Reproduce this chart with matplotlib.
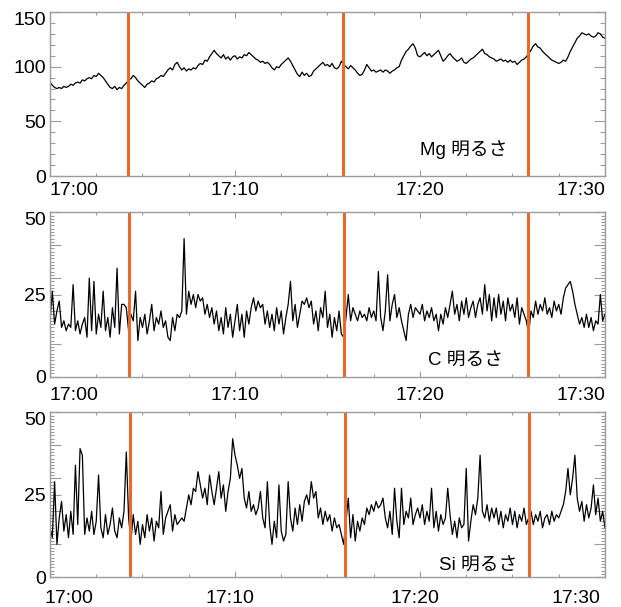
"""Three-panel brightness time series (Mg / C / Si) with event markers."""

import numpy as np
import matplotlib.pyplot as plt
import matplotlib.transforms as mtransforms
from matplotlib.ticker import MultipleLocator

plt.rcParams["font.family"] = ["Liberation Sans", "Noto Sans CJK JP"]

# sample cadence, minutes after 17:00
STEP_MIN = 0.125

# one row per minute (8 samples)
MG = [
    86, 83, 81, 80, 81, 80, 82, 81,
    82, 84, 83, 85, 86, 85, 88, 87,
    89, 90, 89, 92, 91, 94, 92, 90,
    87, 84, 81, 80, 82, 79, 81, 80,
    83, 85, 88, 89, 92, 90, 87, 85,
    83, 81, 84, 85, 87, 86, 89, 90,
    92, 91, 94, 97, 99, 97, 102, 104,
    100, 97, 99, 96, 98, 97, 99, 98,
    101, 103, 102, 106, 105, 109, 112, 115,
    112, 110, 108, 111, 107, 109, 106, 109,
    110, 107, 109, 108, 111, 110, 113, 111,
    109, 107, 106, 104, 105, 103, 104, 102,
    99, 97, 100, 99, 102, 104, 106, 108,
    105, 101, 97, 93, 91, 95, 92, 94,
    91, 92, 96, 98, 100, 102, 104, 101,
    102, 100, 103, 99, 98, 100, 105, 102,
    100, 98, 101, 99, 97, 94, 92, 93,
    97, 102, 99, 96, 97, 95, 96, 97,
    95, 97, 96, 94, 96, 97, 99, 100,
    106, 110, 114, 116, 119, 121, 117, 110,
    109, 111, 113, 110, 112, 109, 111, 113,
    115, 110, 105, 107, 110, 112, 109, 107,
    105, 106, 108, 104, 103, 105, 107, 108,
    110, 112, 114, 116, 112, 111, 109, 108,
    107, 105, 106, 107, 105, 106, 104, 106,
    104, 105, 102, 104, 106, 107, 109, 112,
    115, 119, 121, 118, 117, 114, 112, 110,
    108, 106, 105, 104, 103, 104, 106, 105,
    109, 114, 118, 122, 126, 128, 131, 130,
    129, 130, 128, 127, 128, 131, 130, 127,
    126,
]

C = [
    17, 26, 16, 20, 23, 15, 17, 14,
    16, 15, 28, 14, 17, 13, 16, 18,
    12, 30, 14, 29, 13, 19, 15, 26,
    14, 18, 12, 21, 15, 33, 13, 22,
    22, 21, 14, 19, 17, 26, 11, 18,
    15, 19, 13, 17, 22, 14, 18, 16,
    20, 15, 17, 12, 11, 18, 14, 19,
    18, 20, 42, 19, 26, 22, 25, 21,
    25, 23, 24, 19, 22, 18, 21, 16,
    20, 14, 18, 13, 21, 15, 19, 12,
    17, 22, 14, 19, 12, 20, 16, 21,
    24, 20, 23, 21, 22, 16, 20, 15,
    19, 14, 21, 16, 20, 13, 18, 22,
    29, 17, 22, 15, 19, 23, 22, 24,
    21, 23, 16, 20, 14, 21, 18, 26,
    15, 19, 12, 18, 14, 20, 13, 12,
    18, 25, 17, 21, 19, 17, 20, 18,
    19, 17, 21, 18, 20, 17, 32, 18,
    14, 20, 31, 17, 22, 25, 18, 21,
    17, 14, 11, 19, 22, 18, 21, 20,
    19, 22, 17, 20, 18, 21, 17, 19,
    14, 19, 16, 21, 18, 22, 26, 19,
    22, 17, 23, 19, 24, 18, 21, 23,
    18, 22, 24, 19, 28, 20, 25, 17,
    24, 18, 25, 19, 23, 17, 24, 20,
    22, 18, 24, 16, 21, 19, 17, 13,
    20, 18, 23, 19, 22, 20, 24, 19,
    21, 18, 23, 20, 22, 19, 24, 27,
    28, 29, 26, 22, 19, 16, 18, 15,
    19, 15, 18, 14, 17, 16, 25, 17,
    19,
]

SI = [
    15, 12, 29, 10, 18, 23, 14, 19,
    12, 20, 13, 34, 16, 39, 37, 13,
    18, 14, 20, 13, 17, 31, 15, 12,
    19, 13, 16, 21, 14, 12, 18, 15,
    20, 38, 18, 11, 19, 13, 17, 10,
    16, 12, 19, 14, 18, 11, 17, 15,
    26, 13, 18, 20, 22, 14, 19, 16,
    17, 18, 17, 21, 25, 22, 27, 26,
    32, 28, 24, 27, 22, 31, 26, 22,
    27, 32, 24, 28, 20, 26, 30, 42,
    37, 34, 30, 33, 24, 21, 26, 20,
    22, 19, 21, 26, 18, 15, 29, 16,
    10, 17, 12, 28, 14, 11, 13, 29,
    18, 14, 21, 16, 22, 17, 23, 25,
    22, 29, 24, 26, 18, 21, 16, 20,
    17, 19, 14, 18, 15, 16, 13, 10,
    17, 24, 12, 19, 11, 17, 14, 18,
    16, 21, 19, 22, 20, 23, 21, 22,
    24, 18, 15, 20, 13, 27, 17, 12,
    27, 16, 20, 18, 24, 16, 19, 21,
    18, 22, 16, 20, 17, 27, 15, 20,
    14, 19, 16, 18, 27, 19, 13, 17,
    12, 18, 15, 16, 33, 11, 17, 22,
    19, 24, 37, 20, 18, 22, 17, 21,
    18, 21, 16, 20, 15, 19, 17, 21,
    16, 20, 15, 19, 17, 21, 16, 18,
    20, 16, 19, 17, 20, 15, 18, 19,
    16, 20, 17, 19, 18, 20, 22, 26,
    33, 25, 30, 37, 24, 20, 23, 17,
    22, 18, 21, 28, 19, 24, 17, 20,
    15,
]

# event markers (minutes after 17:00), as drawn in each panel
EVENTS_MG = [4.23, 15.85, 25.82]
EVENTS_C = [4.26, 15.89, 25.86]
EVENTS_SI = [4.32, 15.95, 25.90]

X_TICKS = [0, 10, 20, 30]
X_LABELS = ["17:00", "17:10", "17:20", "17:30"]

MG_YTICKS = [0, 50, 100, 150]
MG_YLABELS = ["0", "50", "100", "150"]
CS_YTICKS = [0, 10, 20, 25, 30, 40, 50]
CS_YLABELS = ["0", "", "", "25", "", "", "50"]

PANEL_LABELS = ["Mg 明るさ", "C 明るさ", "Si 明るさ"]

TICK_GRAY = "#9c9c9c"
EVENT_ORANGE = "#e8692a"


def style_panel(fig, ax, yticks, ylabels, yminor, ylen_minor, xpad, xshift_px):
    ax.set_xlim(0, 30)
    ax.set_ylim(yticks[0], yticks[-1])
    ax.set_xticks(X_TICKS, X_LABELS)
    ax.xaxis.set_minor_locator(MultipleLocator(2.5))
    ax.set_yticks(yticks, ylabels)
    ax.yaxis.set_minor_locator(MultipleLocator(yminor))

    ax.tick_params(which="both", direction="in", top=True, right=True,
                   color=TICK_GRAY, width=0.8, labelsize=14)
    ax.tick_params(axis="y", which="major", length=8, pad=3)
    ax.tick_params(axis="y", which="minor", length=ylen_minor)
    ax.tick_params(axis="x", which="major", length=4, pad=xpad)
    ax.tick_params(axis="x", which="minor", length=2.5)
    for spine in ax.spines.values():
        spine.set_color(TICK_GRAY)
        spine.set_linewidth(1.0)

    xlabs = ax.get_xticklabels()
    xlabs[0].set_ha("left")
    xlabs[-1].set_ha("right")
    if xshift_px:
        offset = mtransforms.ScaledTranslation(xshift_px / fig.dpi, 0,
                                               fig.dpi_scale_trans)
        for lab in xlabs:
            lab.set_transform(lab.get_transform() + offset)
    ax.get_yticklabels()[-1].set_va("top")


def plot_panel(ax, series, events, label, label_xy):
    t = np.arange(len(series)) * STEP_MIN
    ax.plot(t, series, color="black", linewidth=0.9)
    for ev in events:
        ax.axvline(ev, color=EVENT_ORANGE, linewidth=2.2)
    ax.text(label_xy[0], label_xy[1], label, transform=ax.transAxes,
            ha="center", va="center", fontsize=13.5)


def main():
    fig = plt.figure(figsize=(6.21, 6.07), dpi=100)
    left, width = 0.0805, 0.8937
    ax_mg = fig.add_axes([left, 0.7100, width, 0.2702])
    ax_c = fig.add_axes([left, 0.3794, width, 0.2708])
    ax_si = fig.add_axes([left, 0.0489, width, 0.2718])

    plot_panel(ax_mg, MG, EVENTS_MG, PANEL_LABELS[0], (0.746, 0.16))
    plot_panel(ax_c, C, EVENTS_C, PANEL_LABELS[1], (0.749, 0.095))
    plot_panel(ax_si, SI, EVENTS_SI, PANEL_LABELS[2], (0.772, 0.068))

    style_panel(fig, ax_mg, MG_YTICKS, MG_YLABELS, 10, 3.6, 4.5, 0)
    style_panel(fig, ax_c, CS_YTICKS, CS_YLABELS, 1, 3.0, 7.5, 0)
    style_panel(fig, ax_si, CS_YTICKS, CS_YLABELS, 1, 3.0, 9, -5)

    fig.savefig("out.png", dpi=100)


if __name__ == "__main__":
    main()
